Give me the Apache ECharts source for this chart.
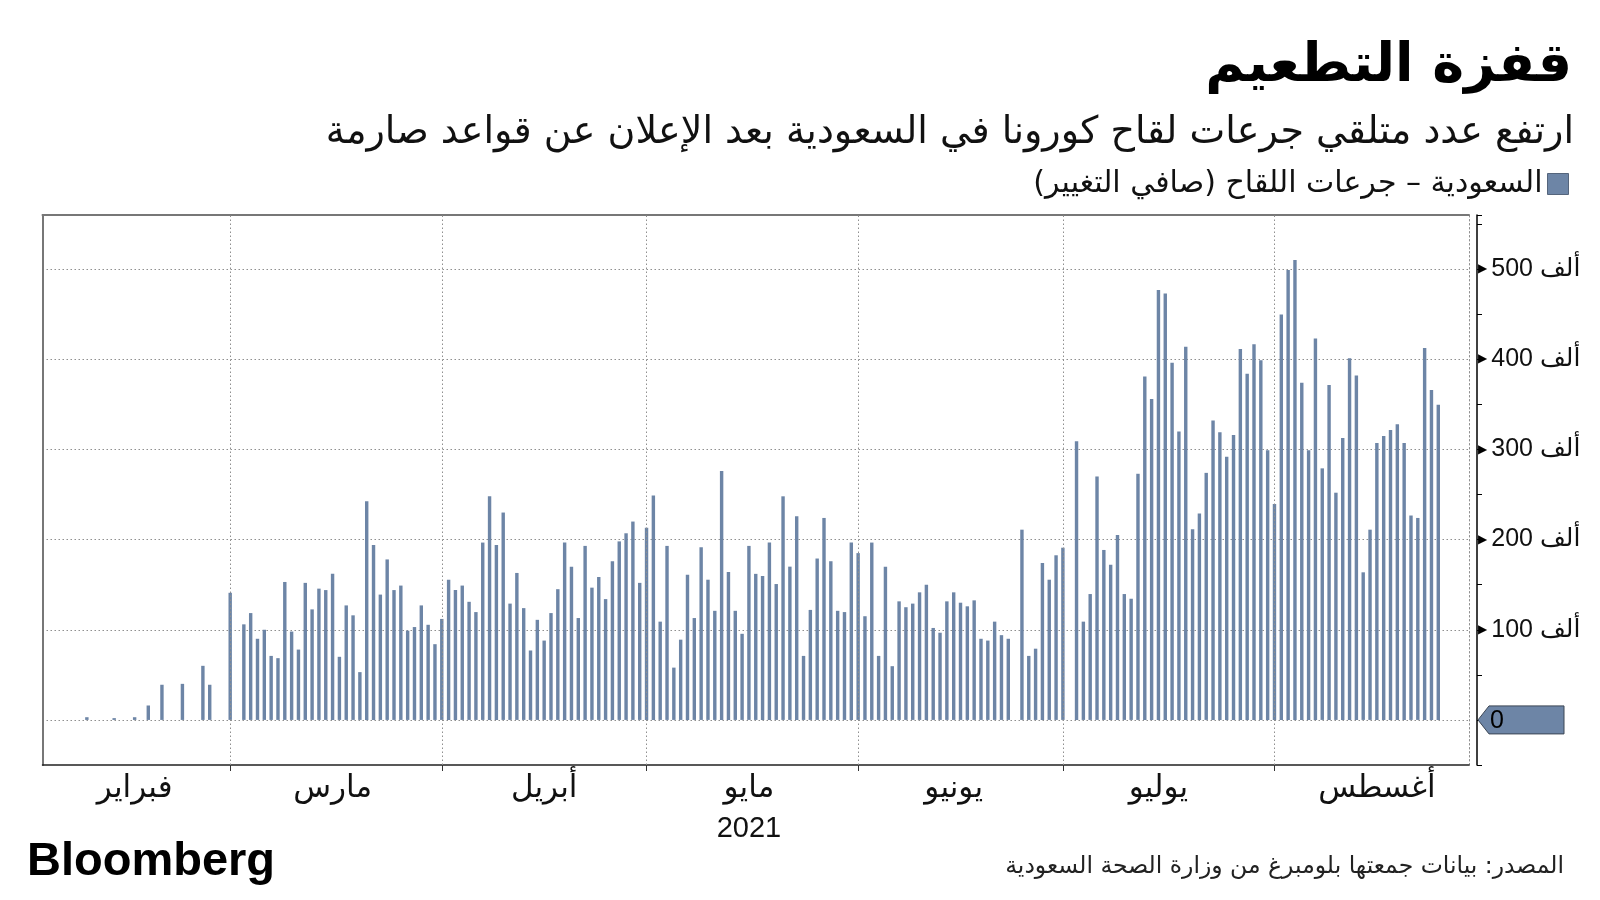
<!DOCTYPE html>
<html><head><meta charset="utf-8">
<script src="https://cdn.jsdelivr.net/npm/echarts@6/dist/echarts.min.js"></script>
<style>html,body{margin:0;padding:0;background:#fff}#c{width:1600px;height:900px}</style>
</head><body><div id="c"></div>
<script>
// Daily net change in vaccine doses, thousands (Feb 2 – Aug 29, 2021)
const feb = [0,0,0,0,0,0,3,0,0,0,2,0,0,3,0,16,0,39,0,0,40,0,0,60,39,0,0]; // from Feb 2
const mar = [141,0,106,118.5,90,100,71,68.5,153,98,78,152,122.6,145.6,144,162,70,127,116,53,242.6,194,139,178,144,149,99,103,127,105.5,84];
const apr = [112,155.5,144,149,131,119.6,196.7,248,194,230,129,163,124,77,111,88,118.5,145,196.7,170,113,193,146.7,158.5,134,176,198,207,220,152];
const may = [213,249,109,193,58,89,161,113,191.5,155.5,121,276,164,121,95.5,193,162,159.6,196.7,150.7,248,170,226,71,122,179,224,176,121,119.6,196.7];
const jun = [185,115,196.7,71,170,59.6,131.5,125,129,141.5,150,102,96.7,131.5,141.5,130,126,132.6,90,88,109,94,90,0,211,71,79,174,155.5,182.6];
const jul = [191,0,309,109,139.6,270,188.5,172,205,139.6,134.4,273,381,356,476.7,473,396,320,414,211.5,229,274,332,319,292,316,411.5,384,416.7,399,299];
const aug = [239.6,449.6,499,510,374,299,423,279,371.5,252,312.6,401,382,163.7,211,307,315,321.5,328,307,226.7,224,412.6,366,349.6,0,null,null,null];

const monthNames = {2:'فبراير',3:'مارس',4:'أبريل',5:'مايو',6:'يونيو',7:'يوليو',8:'أغسطس'};
const monthLabelDay = {2:15,3:16,4:16,5:16,6:15,7:15,8:16};
const yearLabel = '2021';
const yTickValues = [100000,200000,300000,400000,500000];
const seriesName = '\u200Fالسعودية – جرعات اللقاح (صافي التغيير)\u200F';
const titleText = 'قفزة التطعيم';
const subtitleText = 'ارتفع عدد متلقي جرعات لقاح كورونا في السعودية بعد الإعلان عن قواعد صارمة';
const sourceText = 'المصدر: بيانات جمعتها بلومبرغ من وزارة الصحة السعودية';

const segments = [[2,2,feb],[3,1,mar],[4,1,apr],[5,1,may],[6,1,jun],[7,1,jul],[8,1,aug]];
const pad = n => String(n).padStart(2,'0');
const categories = [], values = [];
segments.forEach(([m,d0,arr]) => arr.forEach((v,i) => {
  categories.push(`2021-${pad(m)}-${pad(d0+i)}`);
  values.push(v == null ? null : v*1000);
}));
const monthStarts = categories.filter(c => c.endsWith('-01'));

const AR = '"DejaVu Sans", sans-serif';
const NUM = '"Liberation Sans", "DejaVu Sans", sans-serif';
const BAR = '#6d85a6';
const GRIDC = '#8f8f8f';
const DOT = [1.5, 2.5];
const yMin = -50000, yMax = 560000;

const chart = echarts.init(document.getElementById('c'), null, {renderer:'canvas'});
const option = {
  animation: false,
  backgroundColor: '#fff',
  grid: {left: 42.5, right: 131, top: 215, bottom: 135, containLabel: false},
  legend: {
    data: [seriesName], right: 26, top: 164, align: 'right', icon: 'rect',
    itemWidth: 21, itemHeight: 21, itemGap: 10,
    itemStyle: {borderColor: '#55657c', borderWidth: 1},
    textStyle: {fontFamily: AR, fontSize: 30, color: '#111'}
  },
  xAxis: [{
    type: 'category', data: categories, boundaryGap: true, position: 'bottom',
    axisLine: {show: true, onZero: false, lineStyle: {color: '#222', width: 1.5}},
    axisTick: {show: true, alignWithLabel: true, length: 6, lineStyle: {color: '#333'},
      interval: (i, v) => v.endsWith('-01')},
    axisLabel: {
      show: true, margin: 4, fontFamily: AR, fontSize: 31, color: '#111', lineHeight: 40,
      interval: (i, v) => { const p = v.split('-').map(Number); return monthLabelDay[p[1]] === p[2]; },
      formatter: v => { const m = Number(v.split('-')[1]); return m === 5 ? monthNames[m] + '\n{y|' + yearLabel + '}' : monthNames[m]; },
      rich: {y: {fontFamily: NUM, fontSize: 29, color: '#111', lineHeight: 40}}
    },
    splitLine: {show: false}
  },{
    type: 'category', data: categories, position: 'top',
    axisLine: {show: true, onZero: false, lineStyle: {color: '#777', width: 2}},
    axisTick: {show: false}, axisLabel: {show: false}, splitLine: {show: false}
  }],
  yAxis: [{
    type: 'value', position: 'right', offset: 8, min: yMin, max: yMax, interval: 50000,
    axisLine: {show: true, onZero: false, lineStyle: {color: '#000', width: 1.5}},
    axisTick: {show: true, length: 5, lineStyle: {color: '#000'}},
    axisLabel: {
      show: true, margin: 1,
      formatter: v => yTickValues.includes(v) ? '{t|▶}{l|' + (v/1000) + ' ألف}' : '',
      rich: {
        t: {fontFamily: AR, fontSize: 12, color: '#000', padding: [0, 4, 0, 0]},
        l: {fontFamily: NUM, fontSize: 25, color: '#111'}
      }
    },
    splitLine: {show: true, showMinLine: true, showMaxLine: false,
      lineStyle: {color: ['rgba(0,0,0,0)', GRIDC], type: DOT, width: 1}}
  },{
    type: 'value', position: 'right', offset: 0, min: yMin, max: yMax, interval: 50000,
    axisLine: {show: true, onZero: false, lineStyle: {color: GRIDC, type: DOT, width: 1}},
    axisTick: {show: false}, axisLabel: {show: false}, splitLine: {show: false}
  },{
    type: 'value', position: 'left', offset: 0, min: yMin, max: yMax, interval: 50000,
    axisLine: {show: true, onZero: false, lineStyle: {color: '#777', width: 2}},
    axisTick: {show: false}, axisLabel: {show: false}, splitLine: {show: false}
  }],
  series: [{
    name: seriesName, type: 'bar', xAxisIndex: 0, yAxisIndex: 0,
    data: values, barWidth: '50%', itemStyle: {color: BAR},
    markLine: {
      silent: true, symbol: 'none', label: {show: false},
      lineStyle: {type: DOT, color: GRIDC, width: 1},
      data: monthStarts.map(c => ({xAxis: c}))
    }
  }],
  graphic: [
    {type: 'text', id: 'title', right: 28, top: 40,
     style: {text: titleText, font: 'bold 54px ' + AR, fill: '#000'}},
    {type: 'text', id: 'sub', right: 26, top: 114,
     style: {text: subtitleText, font: '38px ' + AR, fill: '#111'}},
    {type: 'text', id: 'src', right: 36, top: 855,
     style: {text: sourceText, font: '23.5px ' + AR, fill: '#222'}},
    {type: 'text', id: 'logo', left: 27, top: 839,
     style: {text: 'Bloomberg', font: 'bold 47px ' + NUM, fill: '#000'}}
  ]
};
chart.setOption(option);

// zero marker on the value axis
const y0 = chart.convertToPixel({yAxisIndex: 0}, 0);
const ax = 1478, tipW = 11, h = 14, bx = 1564;
chart.setOption({graphic: [
  {type: 'polygon', id: 'zeroBox', shape: {points: [[ax, y0], [ax + tipW, y0 - h], [bx, y0 - h], [bx, y0 + h], [ax + tipW, y0 + h]]},
   style: {fill: BAR, stroke: '#3c4654', lineWidth: 1}, z: 10},
  {type: 'text', id: 'zeroTxt', x: ax + 12, y: y0 + 1, z: 11,
   style: {text: '0', font: '25px ' + NUM, fill: '#000', verticalAlign: 'middle', align: 'left'}}
]});
</script>
</body></html>
